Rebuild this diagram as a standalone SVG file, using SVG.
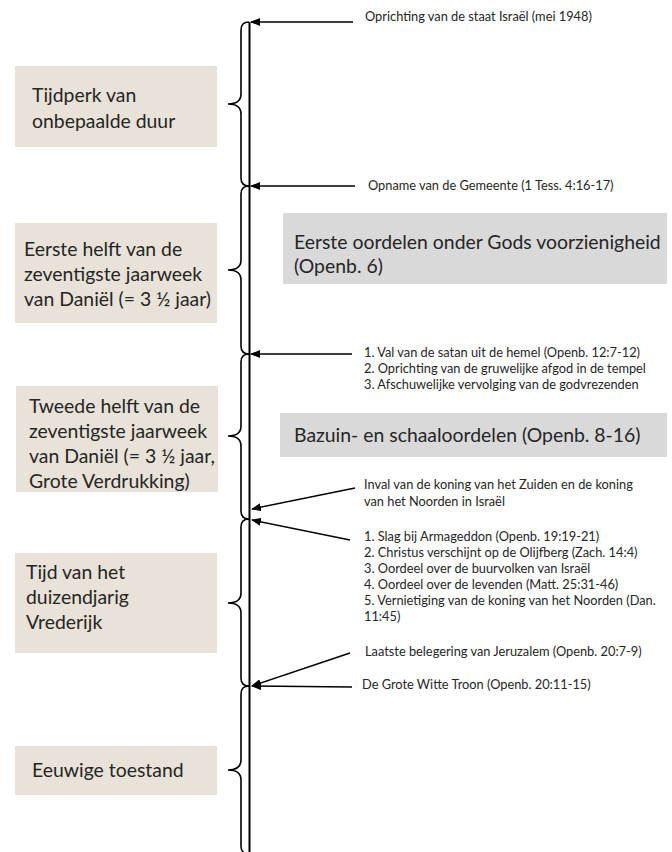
<svg xmlns="http://www.w3.org/2000/svg" width="672" height="852" viewBox="0 0 672 852">
<style>
.beige{fill:#E8E2D8}
.grey{fill:#D9D9D9}
.big{font-family:Lato,"Liberation Sans",sans-serif;font-size:19.4px;fill:#262626}
.sm{font-family:Lato,"Liberation Sans",sans-serif;font-size:12.8px;fill:#262626}
.brace{fill:none;stroke:#000;stroke-width:1.6}
.arr{fill:none;stroke:#000;stroke-width:1.5;marker-end:url(#ah)}
</style>
<defs>
<marker id="ah" markerUnits="userSpaceOnUse" markerWidth="10" markerHeight="8" refX="9" refY="4" orient="auto">
<path d="M0,0 L10,4 L0,8 Z" fill="#000"/>
</marker>
</defs>
<rect width="672" height="852" fill="#fff"/>

<g id="periods">
<g id="p1">
<rect class="beige" x="15" y="66" width="202" height="81"/>
<text class="big" x="32" y="102">Tijdperk van</text>
<text class="big" x="32" y="128">onbepaalde duur</text>
</g>
<g id="p2">
<rect class="beige" x="15" y="223" width="202" height="100"/>
<text class="big" x="24" y="256">Eerste helft van de</text>
<text class="big" x="24" y="281">zeventigste jaarweek</text>
<text class="big" x="24" y="306">van Daniël (= 3 ½ jaar)</text>
</g>
<g id="p3">
<rect class="beige" x="16" y="386" width="202" height="106"/>
<text class="big" x="29" y="413">Tweede helft van de</text>
<text class="big" x="29" y="438">zeventigste jaarweek</text>
<text class="big" x="29" y="463">van Daniël (= 3 ½ jaar,</text>
<text class="big" x="29" y="488">Grote Verdrukking)</text>
</g>
<g id="p4">
<rect class="beige" x="15" y="553" width="202" height="100"/>
<text class="big" x="26" y="579">Tijd van het</text>
<text class="big" x="26" y="604">duizendjarig</text>
<text class="big" x="26" y="629">Vrederijk</text>
</g>
<g id="p5">
<rect class="beige" x="15" y="746" width="202" height="49"/>
<text class="big" x="32" y="777">Eeuwige toestand</text>
</g>
</g>

<g id="judgments">
<g id="j1">
<rect class="grey" x="283" y="213" width="384" height="71"/>
<text class="big" x="294" y="249">Eerste oordelen onder Gods voorzienigheid</text>
<text class="big" x="294" y="273">(Openb. 6)</text>
</g>
<g id="j2">
<rect class="grey" x="280" y="413" width="387" height="44"/>
<text class="big" x="294" y="442">Bazuin- en schaaloordelen (Openb. 8-16)</text>
</g>
</g>

<g id="timeline">
<line x1="249.5" y1="22" x2="249.5" y2="852" stroke="#000" stroke-width="2"/>
<path class="brace" d="M249,22 Q241,22 241,30 L241,94 Q241,104 228,104 Q241,104 241,114 L241,178 Q241,186 249,186"/>
<path class="brace" d="M249,186 Q241,186 241,194 L241,260 Q241,270 228,270 Q241,270 241,280 L241,346 Q241,354 249,354"/>
<path class="brace" d="M249,354 Q241,354 241,362 L241,426 Q241,436 228,436 Q241,436 241,446 L241,511 Q241,519 249,519"/>
<path class="brace" d="M249,519 Q241,519 241,527 L241,593 Q241,603 228,603 Q241,603 241,613 L241,678 Q241,686 249,686"/>
<path class="brace" d="M249,686 Q241,686 241,694 L241,760 Q241,770 228,770 Q241,770 241,780 L241,846 Q241,854 249,854"/>
</g>

<g id="connectors">
<line class="arr" x1="353" y1="22" x2="251" y2="22"/>
<line class="arr" x1="355" y1="186" x2="251" y2="186"/>
<line class="arr" x1="352" y1="354" x2="251" y2="354"/>
<line class="arr" x1="355" y1="488" x2="252" y2="509"/>
<line class="arr" x1="350" y1="540" x2="252" y2="520"/>
<line class="arr" x1="350" y1="653" x2="252" y2="686"/>
<line class="arr" x1="352" y1="687" x2="252" y2="686"/>
</g>

<g id="events">
<g id="e1"><text class="sm" x="365" y="21">Oprichting van de staat Israël (mei 1948)</text></g>
<g id="e2"><text class="sm" x="368" y="190">Opname van de Gemeente (1 Tess. 4:16-17)</text></g>
<g id="e3">
<text class="sm" x="364" y="357">1. Val van de satan uit de hemel (Openb. 12:7-12)</text>
<text class="sm" x="364" y="373">2. Oprichting van de gruwelijke afgod in de tempel</text>
<text class="sm" x="364" y="389">3. Afschuwelijke vervolging van de godvrezenden</text>
</g>
<g id="e4">
<text class="sm" x="364" y="489">Inval van de koning van het Zuiden en de koning</text>
<text class="sm" x="364" y="506">van het Noorden in Israël</text>
</g>
<g id="e5">
<text class="sm" x="364" y="541">1. Slag bij Armageddon (Openb. 19:19-21)</text>
<text class="sm" x="364" y="557">2. Christus verschijnt op de Olijfberg (Zach. 14:4)</text>
<text class="sm" x="364" y="573">3. Oordeel over de buurvolken van Israël</text>
<text class="sm" x="364" y="589">4. Oordeel over de levenden (Matt. 25:31-46)</text>
<text class="sm" x="364" y="605">5. Vernietiging van de koning van het Noorden (Dan.</text>
<text class="sm" x="364" y="621">11:45)</text>
</g>
<g id="e6"><text class="sm" x="365" y="656">Laatste belegering van Jeruzalem (Openb. 20:7-9)</text></g>
<g id="e7"><text class="sm" x="362" y="689">De Grote Witte Troon (Openb. 20:11-15)</text></g>
</g>
</svg>
